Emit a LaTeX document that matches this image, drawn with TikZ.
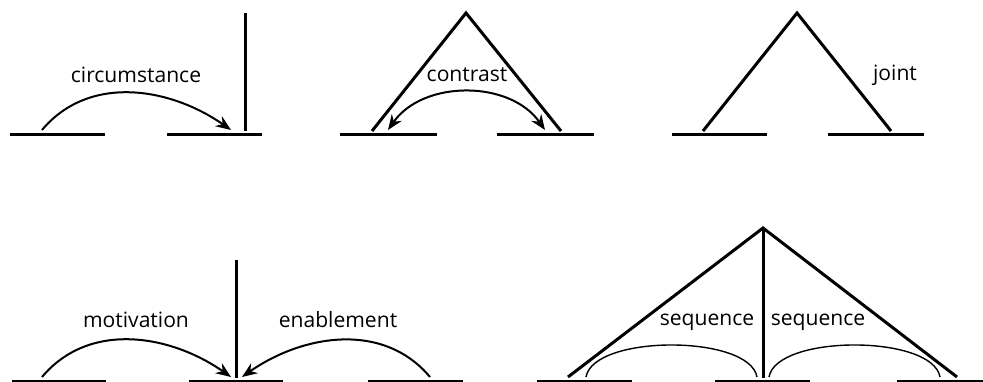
\documentclass[tikz,border=0pt]{standalone}
\usepackage{fontspec}
\setmainfont{Open Sans}
\usetikzlibrary{arrows.meta}

\begin{document}
\begin{tikzpicture}[x=0.25mm, y=0.25mm,
		seg/.style={line width=0.75mm},
		rel/.style={line width=0.5mm, -{Stealth[length=3.8mm,width=3mm]}},
		birel/.style={line width=0.5mm, {Stealth[length=3.8mm,width=3mm]}-{Stealth[length=3.8mm,width=3mm]}},
		multi/.style={line width=0.35mm},
		lbl/.style={font=\fontsize{15}{18}\selectfont, inner sep=0pt}]
			\useasboundingbox (0,0) rectangle (983,382);
			% circumstance
			\coordinate (Ca1) at (10,247); \coordinate (Ca2) at (105,247);
			\coordinate (Cb1) at (167,247); \coordinate (Cb2) at (262,247);
			\coordinate (Ctop) at (245,369); \coordinate (Cfoot) at (245,251);
			\coordinate (Cs) at (42,252); \coordinate (Ce) at (231,252);
			\draw[seg] (Ca1) -- (Ca2);
			\draw[seg] (Cb1) -- (Cb2);
			\draw[seg] (Ctop) -- (Cfoot);
			\draw[rel] (Cs) to[out=50,in=145] (Ce);
			\node[lbl] (circ) at (136,307) {circumstance};
			% contrast
			\coordinate (Ka1) at (340,247); \coordinate (Ka2) at (437,247);
			\coordinate (Kb1) at (497,247); \coordinate (Kb2) at (594,247);
			\coordinate (Ktop) at (466,369);
			\coordinate (KL) at (372,251); \coordinate (KR) at (561,251);
			\coordinate (Ks) at (388,252); \coordinate (Ke) at (545,252);
			\draw[seg] (Ka1) -- (Ka2);
			\draw[seg] (Kb1) -- (Kb2);
			\draw[seg, line join=miter] (KL) -- (Ktop) -- (KR);
			\draw[birel] (Ks) to[out=55,in=125] (Ke);
			\node[lbl] (contr) at (467,307) {contrast};
			% joint
			\coordinate (Ja1) at (672,247); \coordinate (Ja2) at (767,247);
			\coordinate (Jb1) at (828,247); \coordinate (Jb2) at (924,247);
			\coordinate (Jtop) at (797,369);
			\coordinate (JL) at (703,251); \coordinate (JR) at (891,251);
			\draw[seg] (Ja1) -- (Ja2);
			\draw[seg] (Jb1) -- (Jb2);
			\draw[seg, line join=miter] (JL) -- (Jtop) -- (JR);
			\node[lbl] (joint) at (895,307) {joint};
			% motivation / enablement
			\coordinate (Ma1) at (12,0); \coordinate (Ma2) at (106,0);
			\coordinate (Mb1) at (189,0); \coordinate (Mb2) at (283,0);
			\coordinate (Mc1) at (368,0); \coordinate (Mc2) at (463,0);
			\coordinate (Mtop) at (236,122); \coordinate (Mfoot) at (236,4);
			\coordinate (Ms) at (42,5); \coordinate (Me) at (231,5);
			\coordinate (Es) at (430,5); \coordinate (Ee) at (242,5);
			\draw[seg] (Ma1) -- (Ma2);
			\draw[seg] (Mb1) -- (Mb2);
			\draw[seg] (Mc1) -- (Mc2);
			\draw[seg] (Mtop) -- (Mfoot);
			\draw[rel] (Ms) to[out=50,in=145] (Me);
			\draw[rel] (Es) to[out=130,in=35] (Ee);
			\node[lbl] (motiv) at (136,62) {motivation};
			\node[lbl] (enabl) at (338,62) {enablement};
			% sequence
			\coordinate (Sa1) at (537,0); \coordinate (Sa2) at (632,0);
			\coordinate (Sb1) at (715,0); \coordinate (Sb2) at (810,0);
			\coordinate (Sc1) at (897,0); \coordinate (Sc2) at (983,0);
			\coordinate (Stop) at (763,154);
			\coordinate (SL) at (568,5); \coordinate (SR) at (957,5);
			\coordinate (SM) at (763,4);
			\coordinate (Q1s) at (586,5); \coordinate (Q1e) at (757,5);
			\coordinate (Q2s) at (769,5); \coordinate (Q2e) at (940,5);
			\draw[seg] (Sa1) -- (Sa2);
			\draw[seg] (Sb1) -- (Sb2);
			\draw[seg] (Sc1) -- (Sc2);
			\draw[seg, line join=miter] (SL) -- (Stop) -- (SR);
			\draw[seg] (Stop) -- (SM);
			\draw[multi] (Q1s) to[out=80,in=100,looseness=0.65] (Q1e);
			\draw[multi] (Q2s) to[out=80,in=100,looseness=0.65] (Q2e);
			\node[lbl] (seq1) at (707,60) {sequence};
			\node[lbl] (seq2) at (818,60) {sequence};
		\end{tikzpicture}
\end{document}
